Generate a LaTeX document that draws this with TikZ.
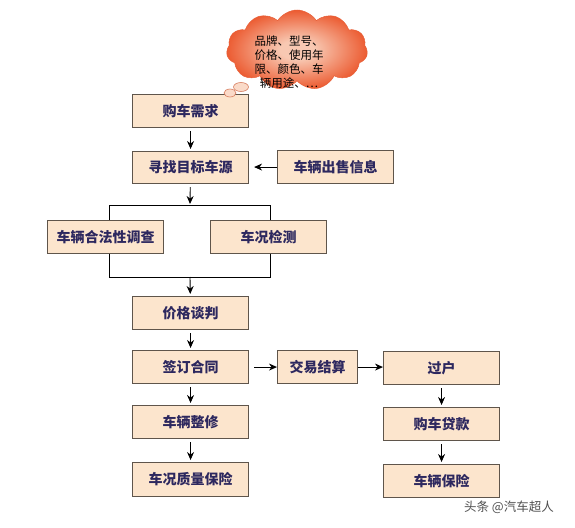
\documentclass[tikz,border=0pt]{standalone}
\usepackage{fontspec}
\setmainfont{Noto Sans CJK SC}
\usetikzlibrary{arrows.meta,shapes.symbols,shapes.geometric}
\definecolor{boxfill}{RGB}{252,229,205}
\definecolor{boxline}{RGB}{95,85,75}
\definecolor{boxtext}{RGB}{45,40,95}
\definecolor{cin}{RGB}{248,200,178}
\definecolor{cout}{RGB}{235,85,42}
\definecolor{cedge}{RGB}{232,95,55}
\definecolor{bubfill}{RGB}{250,218,200}
\definecolor{bubedge}{RGB}{215,125,95}
\definecolor{wmgray}{RGB}{80,80,80}
\pgfdeclareradialshading{cloudshade}{\pgfpoint{0bp}{0bp}}{color(0bp)=(cin); color(6bp)=(cin); color(26bp)=(cout); color(50bp)=(cout)}
\begin{document}
\begin{tikzpicture}[x=1pt,y=-1pt,
  box/.style={draw=boxline, fill=boxfill, line width=1.1pt, minimum width=116pt,
    minimum height=33pt, inner sep=0pt, anchor=north west,
    font=\fontsize{14}{16}\selectfont\bfseries, text=boxtext},
  arr/.style={-{Stealth[length=8pt,width=7pt]}, line width=0.9pt, black},
  brk/.style={line width=0.9pt, black},
  bub/.style={ellipse, fill=bubfill, draw=bubedge, line width=0.6pt, inner sep=0pt}]
\useasboundingbox[fill=white] (0,0) rectangle (575,527);

% bracket
\coordinate (bt) at (190,205);
\coordinate (btl) at (109,205);
\coordinate (btr) at (270,205);
\coordinate (bb) at (190,277);
\coordinate (bbl) at (109,277);
\coordinate (bbr) at (270,277);
\draw[brk] (btl) -- (btr) -- (bbr) -- (bbl) -- cycle;

% boxes
\node[box] (need) at (132,94) {购车需求};
\node[box, minimum height=32pt] (find) at (132,151) {寻找目标车源};
\node[box] (info) at (277,150) {车辆出售信息};
\node[box] (legal) at (47,220) {车辆合法性调查};
\node[box] (check) at (210,220) {车况检测};
\node[box] (price) at (132,296) {价格谈判};
\node[box] (contract) at (132,350) {签订合同};
\node[box, minimum width=80pt] (trade) at (277,350) {交易结算};
\node[box] (transfer) at (383,351) {过户};
\node[box] (repair) at (132,405) {车辆整修};
\node[box, minimum height=34pt] (quality) at (132,462) {车况质量保险};
\node[box] (loan) at (383,407) {购车贷款};
\node[box] (insure) at (383,464) {车辆保险};

% arrows
\draw[arr, shorten <=3pt, shorten >=2pt] (need) -- (find);
\draw[arr, shorten >=5pt] (info.west) -- (info.west -| find.east);
\draw[arr, shorten <=3pt, shorten >=1pt] (find) -- (bt);
\draw[arr, shorten >=2pt] (bb) -- (price);
\draw[arr, shorten <=3pt, shorten >=2pt] (price) -- (contract);
\draw[arr, shorten <=5pt] (contract) -- (trade);
\draw[arr] (trade.east) -- (trade.east -| transfer.west);
\draw[arr, shorten <=3pt, shorten >=2pt] (contract) -- (repair);
\draw[arr, shorten <=3pt, shorten >=2pt] (repair) -- (quality);
\draw[arr, shorten <=3pt, shorten >=2pt] (transfer) -- (loan);
\draw[arr, shorten <=3pt, shorten >=2pt] (loan) -- (insure);

% thought cloud
\node[cloud, cloud puffs=11, cloud puff arc=115, aspect=1.75,
  minimum width=141pt, minimum height=80pt, inner sep=0pt,
  shading=cloudshade, draw=cedge, line width=0.5pt] (cloud) at (297,50) {};
\node[align=center, inner sep=0pt, font=\fontsize{11.5}{14}\selectfont, text=black] (ctext) at (289,62)
  {品牌、型号、\\价格、使用年\\限、颜色、车\\辆用途、…};
\node[bub, minimum width=15pt, minimum height=9pt] (bub1) at (241,87) {};
\node[bub, minimum width=12pt, minimum height=8pt] (bub2) at (230,93) {};

% watermark
\node[font=\fontsize{12.5}{14}\selectfont, text=wmgray, inner sep=0pt] (wm) at (509,507) {头条 @汽车超人};
\end{tikzpicture}
\end{document}
